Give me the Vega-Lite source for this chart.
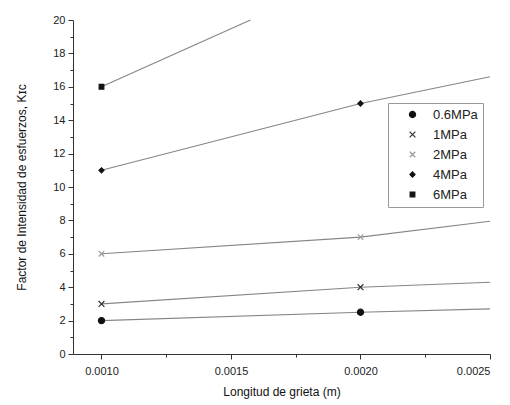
{
  "$schema": "https://vega.github.io/schema/vega-lite/v6.json",
  "width": 417,
  "height": 334,
  "autosize": "none",
  "padding": {"left": 73, "top": 20, "right": 20, "bottom": 51},
  "background": "white",
  "config": {
    "view": {"stroke": null},
    "font": "Liberation Sans",
    "axis": {
      "grid": false,
      "domainColor": "#333",
      "tickColor": "#333",
      "labelColor": "#222",
      "titleColor": "#111",
      "labelFont": "Liberation Sans",
      "titleFont": "Liberation Sans",
      "labelFontSize": 11,
      "titleFontSize": 12,
      "titleFontWeight": "normal"
    },
    "legend": {
      "labelFont": "Liberation Sans",
      "labelFontSize": 13,
      "labelColor": "#222"
    }
  },
  "datasets": {
    "curve": [
      {"series": "0.6MPa", "x": 0.001, "y": 2},
      {"series": "0.6MPa", "x": 0.002, "y": 2.5},
      {"series": "0.6MPa", "x": 0.0025, "y": 2.7},
      {"series": "1MPa", "x": 0.001, "y": 3},
      {"series": "1MPa", "x": 0.002, "y": 4},
      {"series": "1MPa", "x": 0.0025, "y": 4.3},
      {"series": "2MPa", "x": 0.001, "y": 6},
      {"series": "2MPa", "x": 0.002, "y": 7},
      {"series": "2MPa", "x": 0.0025, "y": 7.95},
      {"series": "4MPa", "x": 0.001, "y": 11},
      {"series": "4MPa", "x": 0.002, "y": 15},
      {"series": "4MPa", "x": 0.0025, "y": 16.6},
      {"series": "6MPa", "x": 0.001, "y": 16},
      {"series": "6MPa", "x": 0.001575, "y": 20}
    ],
    "measured": [
      {"series": "0.6MPa", "x": 0.001, "y": 2},
      {"series": "0.6MPa", "x": 0.002, "y": 2.5},
      {"series": "1MPa", "x": 0.001, "y": 3},
      {"series": "1MPa", "x": 0.002, "y": 4},
      {"series": "2MPa", "x": 0.001, "y": 6},
      {"series": "2MPa", "x": 0.002, "y": 7},
      {"series": "4MPa", "x": 0.001, "y": 11},
      {"series": "4MPa", "x": 0.002, "y": 15},
      {"series": "6MPa", "x": 0.001, "y": 16}
    ]
  },
  "encoding": {
    "x": {
      "field": "x", "type": "quantitative",
      "scale": {"domain": [0.00089, 0.0025], "nice": false, "zero": false},
      "axis": {
        "title": "Longitud de grieta (m)",
        "values": [0.001, 0.00125, 0.0015, 0.00175, 0.002, 0.00225, 0.0025],
        "format": ".4f",
        "labelOverlap": false,
        "labelExpr": "round(datum.value*20000) % 10 == 0 ? datum.label : ''",
        "tickSize": {"condition": {"test": "round(datum.value*20000) % 10 == 0", "value": 5}, "value": 3},
        "labelPadding": 6,
        "titlePadding": 10
      }
    },
    "y": {
      "field": "y", "type": "quantitative",
      "scale": {"domain": [0, 20], "nice": false},
      "axis": {
        "title": "Factor de Intensidad de esfuerzos, Kɪᴄ",
        "values": [0,1,2,3,4,5,6,7,8,9,10,11,12,13,14,15,16,17,18,19,20],
        "labelOverlap": false,
        "labelExpr": "(datum.value % 2) < 0.5 ? datum.label : ''",
        "tickSize": {"condition": {"test": "(datum.value % 2) < 0.5", "value": 5}, "value": 3},
        "labelPadding": 3,
        "titlePadding": 24
      }
    }
  },
  "layer": [
    {
      "data": {"name": "curve"},
      "mark": {"type": "line", "color": "#858585", "strokeWidth": 1.1},
      "encoding": {
        "detail": {"field": "series"}
      }
    },
    {
      "data": {"name": "measured"},
      "mark": {"type": "point", "filled": true, "opacity": 1, "strokeWidth": 1.2},
      "encoding": {
        "shape": {
          "field": "series", "type": "nominal",
          "scale": {
            "domain": ["0.6MPa", "1MPa", "2MPa", "4MPa", "6MPa"],
            "range": ["circle", "M-1,-1L1,1M-1,1L1,-1", "M-1,-1L1,1M-1,1L1,-1", "diamond", "square"]
          },
          "legend": {
            "title": null,
            "orient": "none",
            "legendX": 315,
            "legendY": 83,
            "strokeColor": "#999",
            "fillColor": "white",
            "padding": 5,
            "rowPadding": 6,
            "symbolStrokeWidth": 1.2,
            "symbolOffset": 13,
            "labelOffset": 14
          }
        },
        "fill": {
          "field": "series", "type": "nominal",
          "scale": {"domain": ["0.6MPa", "1MPa", "2MPa", "4MPa", "6MPa"], "range": ["#111", "#333", "#999", "#111", "#111"]},
          "legend": {"title": null}
        },
        "stroke": {
          "field": "series", "type": "nominal",
          "scale": {"domain": ["0.6MPa", "1MPa", "2MPa", "4MPa", "6MPa"], "range": ["#111", "#333", "#999", "#111", "#111"]},
          "legend": {"title": null}
        },
        "size": {
          "field": "series", "type": "nominal",
          "scale": {"domain": ["0.6MPa", "1MPa", "2MPa", "4MPa", "6MPa"], "range": [38, 22, 25, 70, 22]},
          "legend": {"title": null}
        }
      }
    }
  ]
}
